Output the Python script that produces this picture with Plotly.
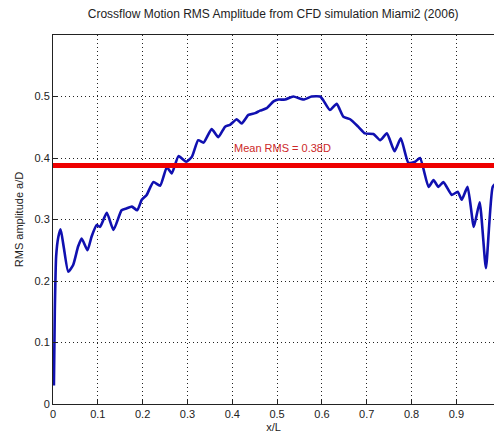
import math
import plotly.graph_objects as go

# Crossflow RMS amplitude along the riser (x/L) from the CFD run
x_over_L = [0.002, 0.004, 0.007, 0.012, 0.017, 0.024, 0.034, 0.045, 0.056, 0.064,
            0.077, 0.086, 0.0975, 0.105, 0.12, 0.135, 0.153, 0.164, 0.176, 0.188,
            0.198, 0.209, 0.224, 0.239, 0.254, 0.265, 0.280, 0.297, 0.31, 0.324,
            0.336, 0.354, 0.369, 0.384, 0.395, 0.41, 0.421, 0.436, 0.451, 0.462,
            0.477, 0.492, 0.503, 0.518, 0.536, 0.559, 0.577, 0.596, 0.603, 0.618,
            0.633, 0.648, 0.663, 0.681, 0.696, 0.715, 0.73, 0.745, 0.762, 0.776,
            0.793, 0.808, 0.819, 0.838, 0.849, 0.86, 0.871, 0.89, 0.903, 0.912,
            0.925, 0.939, 0.952, 0.966, 0.981, 0.99]
rms_aD = [0.03, 0.15, 0.24, 0.272, 0.284, 0.255, 0.215, 0.226, 0.256, 0.269,
          0.250, 0.272, 0.291, 0.288, 0.311, 0.283, 0.315, 0.318, 0.321, 0.315,
          0.332, 0.340, 0.361, 0.355, 0.385, 0.375, 0.403, 0.394, 0.402, 0.429,
          0.425, 0.447, 0.434, 0.451, 0.454, 0.463, 0.456, 0.47, 0.473, 0.477,
          0.481, 0.492, 0.495, 0.495, 0.50, 0.495, 0.50, 0.50, 0.494, 0.478,
          0.488, 0.467, 0.463, 0.451, 0.440, 0.439, 0.429, 0.44, 0.411, 0.432,
          0.392, 0.394, 0.40, 0.353, 0.364, 0.353, 0.361, 0.34, 0.345, 0.332,
          0.353, 0.288, 0.328, 0.221, 0.353, 0.36]
mean_rms = 0.388

x_ticks = [0, 0.1, 0.2, 0.3, 0.4, 0.5, 0.6, 0.7, 0.8, 0.9]
y_ticks = [0, 0.1, 0.2, 0.3, 0.4, 0.5]

assert len(x_over_L) == len(rms_aD)

font = "Liberation Sans, Arial, sans-serif"
fig = go.Figure()

fig.add_trace(go.Scatter(
    x=x_over_L, y=rms_aD, mode="lines",
    line=dict(color="#1010b0", width=2.6, shape="spline", smoothing=0.5),
    hoverinfo="skip", showlegend=False))

fig.add_trace(go.Scatter(
    x=[0, 1], y=[mean_rms, mean_rms], mode="lines",
    line=dict(color="#ee0000", width=5),
    hoverinfo="skip", showlegend=False))

mean_label = f"Mean RMS = {math.floor(mean_rms * 100) / 100:.2f}D"
fig.add_annotation(x=0.4, y=mean_rms + 0.028, text=mean_label, showarrow=False,
                   xanchor="left", yanchor="middle",
                   font=dict(family=font, size=11, color="#cc2828"))

axis_common = dict(
    showgrid=True, gridcolor="#222222", griddash="1px,3px", gridwidth=1,
    zeroline=False, showline=True, linecolor="#222222", linewidth=1,
    ticks="inside", ticklen=4, tickcolor="#222222",
    tickfont=dict(family=font, size=11, color="#222222"),
)

fig.update_xaxes(range=[0, 0.984], tickvals=x_ticks,
                 ticktext=[f"{v:g}" for v in x_ticks], mirror=True,
                 title=dict(text="x/L", standoff=4,
                            font=dict(family=font, size=11, color="#222222")),
                 **axis_common)
fig.update_yaxes(range=[0, 0.6], tickvals=y_ticks,
                 ticktext=[f"{v:g}" for v in y_ticks],
                 title=dict(text="RMS amplitude a/D", standoff=8,
                            font=dict(family=font, size=11, color="#222222")),
                 **axis_common)

fig.update_layout(
    width=494, height=439,
    margin=dict(l=53, r=0, t=35, b=35),
    paper_bgcolor="white", plot_bgcolor="white",
    title=dict(text="Crossflow Motion RMS Amplitude from CFD simulation Miami2 (2006)",
               x=0.553, xanchor="center", y=0.968, yanchor="middle",
               font=dict(family=font, size=12, color="#222222")),
)

fig.write_html("out.html")
